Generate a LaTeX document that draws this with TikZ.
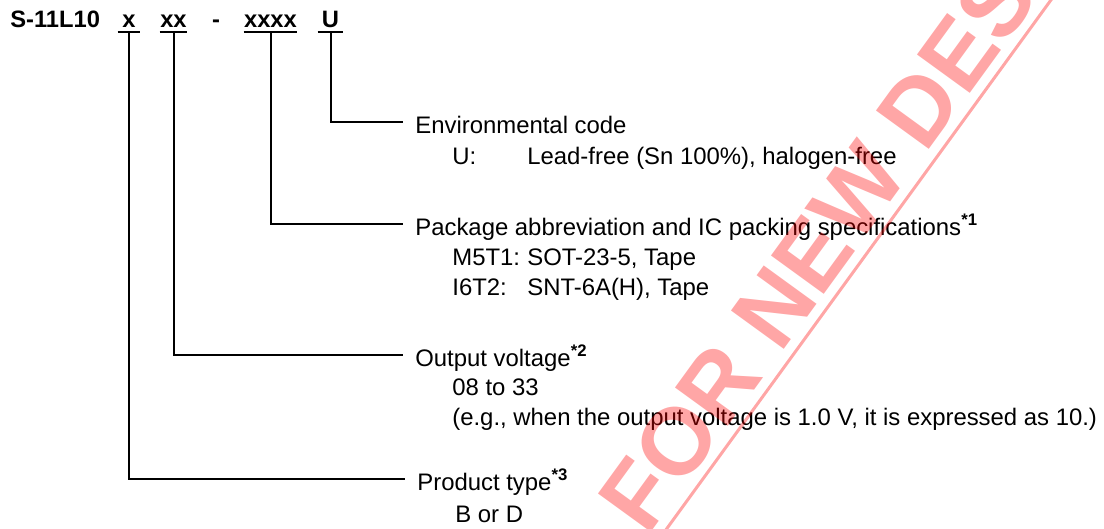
\documentclass[tikz,border=0pt]{standalone}
\usepackage{fontspec}
\setmainfont{Liberation Sans}
\usetikzlibrary{positioning,calc}
\definecolor{wmred}{RGB}{255,0,0}
\tikzset{
  hdr/.style={font=\fontsize{13.5}{16}\selectfont\bfseries, anchor=base west, inner sep=0pt},
  code/.style={font=\fontsize{13.5}{16}\selectfont\bfseries, anchor=base, inner xsep=0pt, inner ysep=0pt, text depth=0.1cm},
  uln/.style={line width=0.04cm},
  conn/.style={line width=0.04cm},
  ttl/.style={font=\fontsize{13.6}{17}\selectfont, anchor=base west, inner sep=0pt},
  dtl/.style={font=\fontsize{13.6}{17}\selectfont, anchor=base west, inner sep=0pt, align=left},
  wm/.style={font=\fontsize{54}{54}\selectfont\bfseries, text=wmred, text opacity=0.35, inner sep=0pt},
  wmline/.style={draw=wmred, draw opacity=0.35, line width=0.06cm},
}
\newcommand{\tabcol}[1]{\makebox[1.5cm][l]{#1}}
\newcommand{\fnote}[1]{\textsuperscript{\bfseries *#1}}

\begin{document}
\begin{tikzpicture}[x=0.02cm,y=-0.02cm]
  \useasboundingbox (0,0) rectangle (1104,528);

  % part number
  \node[hdr] (pn) at (10,27) {S-11L10};
  \node[code] (dash) at (216,27) {-};
  \foreach \nm/\cx/\uw/\txt in {cx/129/22/x, cxx/173.5/27/xx, cpkg/270.5/53/xxxx, cenv/330.5/25/U}{
    \node[code, minimum width=\uw*0.02cm] (\nm) at (\cx,27) {\txt};
    \draw[uln] (\nm.south west) -- (\nm.south east);
  }

  % descriptions (multi-line nodes sit on their last baseline)
  \node[ttl] (env) at (415,133) {Environmental code};
  \node[dtl] (envd) at (452,164) {\tabcol{U:}Lead-free (Sn 100\%), halogen-free};

  \node[ttl] (pkg) at (415,235) {Package abbreviation and IC packing specifications\fnote{1}};
  \node[dtl] (pkgd) at (452,295) {\tabcol{M5T1:}SOT-23-5, Tape\\\tabcol{I6T2:}SNT-6A(H), Tape};

  \node[ttl] (out) at (415,366) {Output voltage\fnote{2}};
  \node[dtl] (outd) at (452,425) {08 to 33\\(e.g., when the output voltage is 1.0 V, it is expressed as 10.)};

  \node[ttl] (prod) at (417,490) {Product type\fnote{3}};
  \node[dtl] (prodd) at (455,522) {B or D};

  % leaders
  \draw[conn] (cenv.south) |- ($(env.base west)+(-12,-11)$);
  \draw[conn] (cpkg.south) |- ($(pkg.base west)+(-12,-11)$);
  \draw[conn] (cxx.south) |- ($(out.base west)+(-12,-11)$);
  \draw[conn] (cx.south) |- ($(prod.base west)+(-12,-11)$);

  % watermark
  \begin{scope}
    \clip (0,0) rectangle (1104,528);
    \node[wm, rotate=54, anchor=base west] (wmtxt) at (647,538) {FOR NEW DES};
    \draw[wmline] ($(wmtxt.base west)+(-27,55)$) -- ($(wmtxt.base west)+(433,-578)$);
  \end{scope}
\end{tikzpicture}
\end{document}
